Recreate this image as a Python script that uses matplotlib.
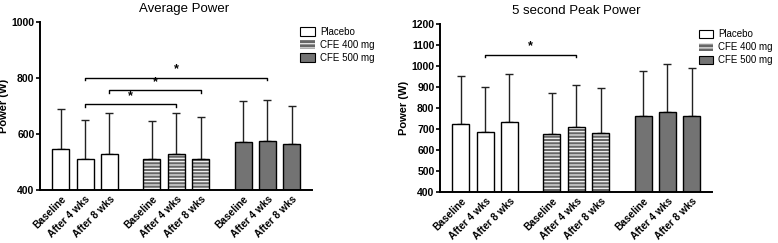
import numpy as np
import matplotlib
matplotlib.use("Agg")
import matplotlib.pyplot as plt
from matplotlib.patches import Patch

plt.rcParams['font.family'] = ['Liberation Sans', 'DejaVu Sans']
plt.rcParams['hatch.linewidth'] = 0.8

groups = ['Placebo', 'CFE 400 mg', 'CFE 500 mg']
timepoints = ['Baseline', 'After 4 wks', 'After 8 wks']

# Average power (W): means and upper error (SD)
avg_placebo = [548, 511, 530]
avg_placebo_sd = [140, 141, 146]
avg_cfe400 = [512, 527, 510]
avg_cfe400_sd = [133, 149, 152]
avg_cfe500 = [571, 576, 563]
avg_cfe500_sd = [148, 147, 137]

# 5 second peak power (W)
peak_placebo = [725, 687, 735]
peak_placebo_sd = [228, 215, 225]
peak_cfe400 = [675, 711, 682]
peak_cfe400_sd = [198, 199, 215]
peak_cfe500 = [762, 780, 762]
peak_cfe500_sd = [213, 228, 228]

# significance brackets: (bar index from, bar index to, height)
avg_brackets = [(1, 7, 802), (2, 5, 757), (1, 4, 707)]
peak_brackets = [(1, 4, 1054)]

gap = 3.75
pos = np.array([g * gap + j for g in range(3) for j in range(3)])
width = 0.7
STRIPE = '#666666'
DARK = '#737373'


def draw_panel(ax, series, ylim, yticks, title, brackets, title_x=0.5):
    for g in range(3):
        x = pos[g * 3:(g + 1) * 3]
        m, s = series[g]
        if g == 1:
            ax.bar(x, m, width, color=STRIPE, edgecolor='white',
                   hatch='-----', linewidth=0, zorder=2)
            ax.bar(x, m, width, fill=False, edgecolor='black', linewidth=1.0, zorder=3)
        else:
            fc = DARK if g == 2 else 'white'
            ax.bar(x, m, width, color=fc, edgecolor='black', linewidth=1.0, zorder=2)
        ax.errorbar(x, m, yerr=[np.zeros(3), s], fmt='none', ecolor='#222222',
                    elinewidth=1.0, capsize=3, capthick=1.0, zorder=1)
    ax.set_ylim(*ylim)
    ax.set_xlim(pos[0] - 0.86, pos[-1] + 0.84)
    ax.set_yticks(yticks)
    ax.set_xticks(pos)
    ax.set_xticklabels(timepoints * 3, rotation=45, ha='right',
                       rotation_mode='anchor', fontsize=7.3, fontweight='bold')
    for lab in ax.get_yticklabels():
        lab.set_fontweight('bold')
        lab.set_fontsize(7.5)
    ax.tick_params(axis='x', length=0, pad=3)
    ax.tick_params(axis='y', length=3, width=1.2, pad=1)
    for sp in ['top', 'right']:
        ax.spines[sp].set_visible(False)
    for sp in ['left', 'bottom']:
        ax.spines[sp].set_linewidth(1.4)
    ax.set_ylabel('Power (W)', fontsize=8, fontweight='bold', labelpad=2)
    ax.set_title(title, fontsize=9.5, pad=7, x=title_x)
    drop = (ylim[1] - ylim[0]) * 0.016
    for a, b, h in brackets:
        ax.plot([pos[a], pos[a], pos[b], pos[b]], [h - drop, h, h, h - drop],
                color='black', lw=1.0, clip_on=False, zorder=4)
        ax.annotate('*', ((pos[a] + pos[b]) / 2, h), xytext=(0, 1.5),
                    textcoords='offset points', ha='center', va='bottom',
                    fontsize=9, fontweight='bold')
    handles = [Patch(facecolor='white', edgecolor='black', lw=0.8),
               Patch(facecolor=STRIPE, edgecolor='white', hatch='----', lw=0),
               Patch(facecolor=DARK, edgecolor='black', lw=0.8)]
    return handles


fig = plt.figure(figsize=(7.78, 2.43), dpi=100)
ax1 = fig.add_axes([0.0514, 0.218, 0.3496, 0.691])
ax2 = fig.add_axes([0.5656, 0.210, 0.3496, 0.691])

h = draw_panel(ax1, [(avg_placebo, avg_placebo_sd), (avg_cfe400, avg_cfe400_sd),
                     (avg_cfe500, avg_cfe500_sd)],
               (400, 1000), [400, 600, 800, 1000], 'Average Power', avg_brackets,
               title_x=0.53)
draw_panel(ax2, [(peak_placebo, peak_placebo_sd), (peak_cfe400, peak_cfe400_sd),
                 (peak_cfe500, peak_cfe500_sd)],
           (400, 1200), np.arange(400, 1201, 100), '5 second Peak Power', peak_brackets)

leg_kw = dict(frameon=False, fontsize=7, handlelength=1.5, handleheight=1.0,
              handletextpad=0.5, labelspacing=0.3, borderaxespad=0)
fig.legend(h, groups, loc='upper left', bbox_to_anchor=(0.381, 0.905), **leg_kw)
fig.legend(h, groups, loc='upper left', bbox_to_anchor=(0.893, 0.895), **leg_kw)

fig.savefig('out.png', dpi=100)
